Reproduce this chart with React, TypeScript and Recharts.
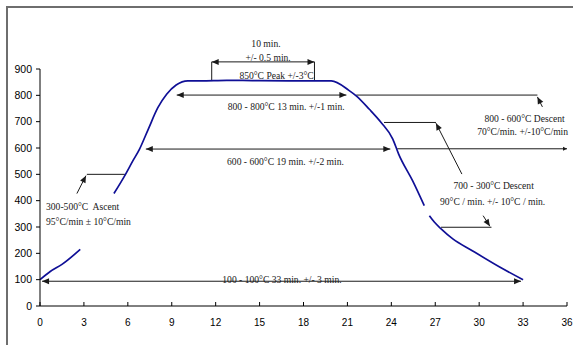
import { LineChart, Line, XAxis, YAxis, ReferenceLine, ReferenceDot } from "recharts";

// furnace profile (minutes, °C); null = hidden behind a label box
const minutes = [0, 0.7, 1.5, 2.75, 4, 5.05, 5.85, 6.35, 6.8, 7.4, 8.05, 8.65, 9.3, 10.1, 11, 12.75, 14.5, 17, 19.9, 21.1, 21.6, 22.5, 23.3, 24.1, 24.5, 25.45, 26.25, 26.4, 26.6, 26.95, 27.4, 28.2, 29.5, 31.4, 33];
const temps = [100, 131, 158, 215, null, 427, 501, 552, 596, 672, 753, 804, 839, 855, 855, 857, 856, 855, 855, 819, 798, 747, 697, 634, 577, 476, 381, null, 343, 318, 293, 255, 211, 148, 100];

const xTicks = [0, 3, 6, 9, 12, 15, 18, 21, 24, 27, 30, 33, 36];
const yTicks = [0, 100, 200, 300, 400, 500, 600, 700, 800, 900];

// annotation arrows in chart units
const arrows = [
  { x1: 11.73, y1: 927, x2: 18.75, y2: 927, head: "both" },
  { x1: 11.73, y1: 927, x2: 11.73, y2: 855, head: "none" },
  { x1: 18.75, y1: 927, x2: 18.75, y2: 855, head: "none" },
  { x1: 9.34, y1: 801, x2: 20.93, y2: 801, head: "both" },
  { x1: 7.23, y1: 596, x2: 23.93, y2: 596, head: "both" },
  { x1: 0.14, y1: 94, x2: 32.86, y2: 94, head: "both" },
  { x1: 3.2, y1: 500, x2: 5.8, y2: 500, head: "none" },
  { x1: 2.52, y1: 427, x2: 3.14, y2: 495, head: "end" },
  { x1: 21.6, y1: 801, x2: 33.98, y2: 801, head: "none" },
  { x1: 34.32, y1: 756, x2: 33.98, y2: 794, head: "end" },
  { x1: 24.4, y1: 597, x2: 36, y2: 597, head: "small" },
  { x1: 23.5, y1: 697, x2: 27.05, y2: 697, head: "none" },
  { x1: 28.82, y1: 501, x2: 27.05, y2: 694, head: "end" },
  { x1: 27.39, y1: 299, x2: 30.84, y2: 299, head: "none" },
  { x1: 30.27, y1: 343, x2: 30.73, y2: 303, head: "end" },
];

const notes = [
  { x: 15.44, y: 996, text: "10 min.", anchor: "middle" },
  { x: 15.58, y: 942, text: "+/- 0.5 min.", anchor: "middle" },
  { x: 16.16, y: 874, text: "850°C Peak +/-3°C", anchor: "middle" },
  { x: 16.82, y: 756, text: "800 - 800°C 13 min. +/-1 min.", anchor: "middle" },
  { x: 16.77, y: 549, text: "600 - 600°C 19 min. +/-2 min.", anchor: "middle" },
  { x: 16.53, y: 102, text: "100 - 100°C 33 min. +/- 3 min.", anchor: "middle" },
  { x: 0.41, y: 377, text: "300-500°C  Ascent", anchor: "start" },
  { x: 0.41, y: 321, text: "95°C/min ± 10°C/min", anchor: "start" },
  { x: 33.1, y: 712, text: "800 - 600°C Descent", anchor: "middle" },
  { x: 32.97, y: 661, text: "70°C/min. +/-10°C/min", anchor: "middle" },
  { x: 30.99, y: 457, text: "700 - 300°C Descent", anchor: "middle" },
  { x: 30.92, y: 396, text: "90°C / min. +/- 10°C / min.", anchor: "middle" },
];

const data = minutes.map((t, i) => ({ t, temp: temps[i] }));

const INK = "#1a1a1a";
const X_TICK_SIZE = 6;
const X_TICK_MARGIN = 10;

function head(tx: number, ty: number, fx: number, fy: number, len: number, half: number) {
  const a = Math.atan2(ty - fy, tx - fx);
  const c = Math.cos(a);
  const s = Math.sin(a);
  const bx = tx - len * c;
  const by = ty - len * s;
  return `${tx},${ty} ${bx + half * s},${by - half * c} ${bx - half * s},${by + half * c}`;
}

function arrowShape(kind: string) {
  return (p: any) => {
    const { x1, y1, x2, y2 } = p;
    return (
      <g>
        <line x1={x1} y1={y1} x2={x2} y2={y2} stroke={INK} strokeWidth={1} />
        {(kind === "both" || kind === "end") && (
          <polygon points={head(x2, y2, x1, y1, 7, 3)} fill={INK} />
        )}
        {kind === "both" && <polygon points={head(x1, y1, x2, y2, 7, 3)} fill={INK} />}
        {kind === "small" && <polygon points={head(x2, y2, x1, y1, 4, 2)} fill={INK} />}
      </g>
    );
  };
}

function noteShape(text: string, anchor: string) {
  return (p: any) => (
    <text
      x={p.cx}
      y={p.cy}
      textAnchor={anchor}
      dominantBaseline="central"
      fontFamily="'Liberation Serif', 'Times New Roman', serif"
      fontSize={9.6}
      fill={INK}
      style={{ whiteSpace: "pre" }}
    >
      {text}
    </text>
  );
}

function XTick(props: any) {
  const { x, y, payload } = props;
  const axisY = y - X_TICK_SIZE - X_TICK_MARGIN;
  return (
    <g>
      <line x1={x} x2={x} y1={axisY} y2={axisY - 4} stroke="#000" />
      <text
        x={x}
        y={y}
        dy="0.35em"
        textAnchor="middle"
        fontFamily="'Liberation Sans', Arial, sans-serif"
        fontSize={10}
        fill="#000"
      >
        {payload.value}
      </text>
    </g>
  );
}

export default function App() {
  return (
    <div
      style={{
        position: "absolute",
        left: 0,
        top: 0,
        width: 573,
        height: 345,
        overflow: "hidden",
        background: "#fff",
      }}
    >
      <div
        style={{
          position: "absolute",
          left: 6,
          top: 6,
          width: 600,
          height: 400,
          border: "2px solid #6e6e6e",
        }}
      />
      <div style={{ position: "absolute", left: 0, top: 0 }}>
        <LineChart
          width={573}
          height={345}
          data={data}
          margin={{ top: 69, right: 6, bottom: 9, left: 0 }}
        >
          <XAxis
            dataKey="t"
            type="number"
            domain={[0, 36]}
            ticks={xTicks}
            interval={0}
            height={30}
            stroke="#000"
            tickLine={false}
            tickSize={X_TICK_SIZE}
            tickMargin={X_TICK_MARGIN}
            tick={<XTick />}
          />
          <YAxis
            type="number"
            domain={[0, 900]}
            ticks={yTicks}
            interval={0}
            width={40}
            stroke="#000"
            tickSize={4}
            tickMargin={4}
            tick={{ fill: "#000", fontSize: 10.5, fontFamily: "'Liberation Sans', Arial, sans-serif" }}
          />
          {arrows.map((a, i) => (
            <ReferenceLine
              key={"a" + i}
              segment={[
                { x: a.x1, y: a.y1 },
                { x: a.x2, y: a.y2 },
              ]}
              ifOverflow="visible"
              shape={arrowShape(a.head)}
            />
          ))}
          <Line
            type="monotone"
            dataKey="temp"
            stroke="#0f0f96"
            strokeWidth={1.7}
            dot={false}
            connectNulls={false}
            isAnimationActive={false}
          />
          {notes.map((n, i) => (
            <ReferenceDot
              key={"n" + i}
              x={n.x}
              y={n.y}
              r={0}
              ifOverflow="visible"
              shape={noteShape(n.text, n.anchor)}
            />
          ))}
        </LineChart>
      </div>
    </div>
  );
}
